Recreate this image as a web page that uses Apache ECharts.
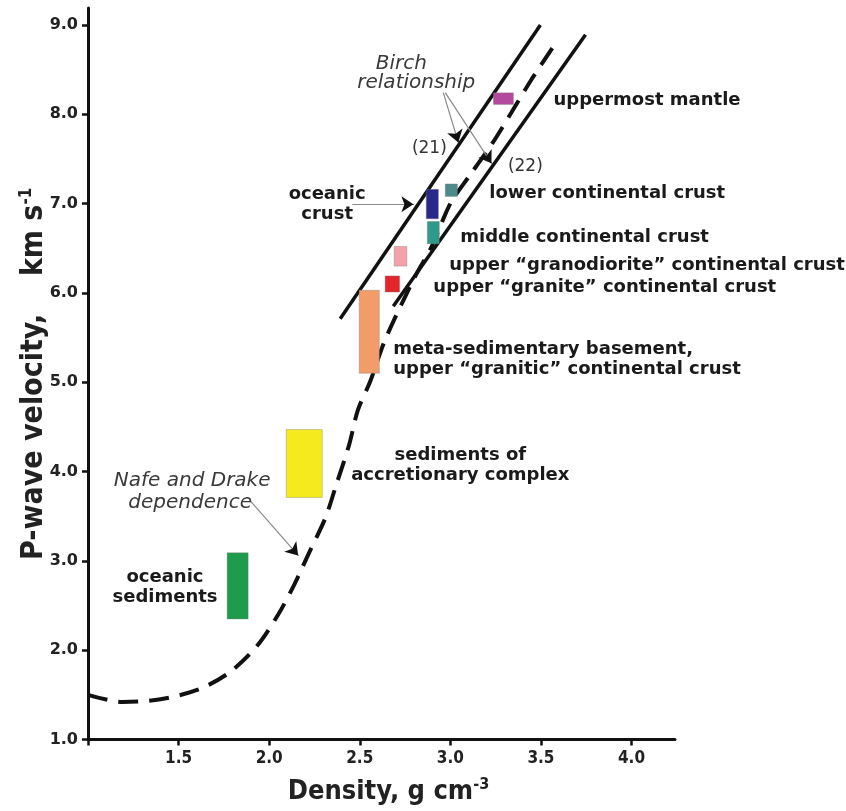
<!DOCTYPE html>
<html>
<head>
<meta charset="utf-8">
<script src="https://cdn.jsdelivr.net/npm/echarts@6/dist/echarts.min.js"></script>
<style>
  html, body { margin: 0; padding: 0; background: #fff; }
  #chart { width: 846px; height: 811px; }
</style>
</head>
<body>
<div id="chart"></div>
<script>
// 坐标轴刻度
const densityTicks = [1.0, 1.5, 2.0, 2.5, 3.0, 3.5, 4.0];
const densityLabels = [1.5, 2.0, 2.5, 3.0, 3.5, 4.0];
const velocityTicks = [1, 2, 3, 4, 5, 6, 7, 8, 9];

// Nafe-Drake 曲线 (虚线)
const nafeDensity = [1.0, 1.19, 1.40, 1.61, 1.78, 1.93, 2.05, 2.14, 2.22, 2.31, 2.37, 2.44, 2.49, 2.558, 2.641, 2.812, 2.89, 2.972, 3.011, 3.105, 3.227, 3.337, 3.448, 3.586];
const nafeVelocity = [1.50, 1.42, 1.45, 1.56, 1.75, 2.04, 2.40, 2.74, 3.09, 3.48, 3.85, 4.29, 4.69, 5.01, 5.48, 6.21, 6.49, 6.88, 7.04, 7.31, 7.66, 8.02, 8.39, 8.81];

// Birch 关系 (实线)
const birch21Density = [2.392, 3.497];
const birch21Velocity = [5.71, 9.0];
const birch22Density = [2.685, 3.746];
const birch22Velocity = [5.85, 8.89];

// 岩石块 (密度范围, 速度范围)
const blockNames = ['oceanic sediments', 'sediments of accretionary complex', 'meta-sedimentary basement', 'upper granite', 'upper granodiorite', 'middle continental crust', 'oceanic crust', 'lower continental crust', 'uppermost mantle'];
const blockDensityMin = [1.768, 2.094, 2.497, 2.640, 2.690, 2.873, 2.867, 2.972, 3.238];
const blockDensityMax = [1.884, 2.293, 2.608, 2.720, 2.760, 2.939, 2.934, 3.039, 3.348];
const blockVelocityMin = [2.35, 3.71, 5.10, 6.01, 6.30, 6.55, 6.83, 7.08, 8.11];
const blockVelocityMax = [3.09, 4.47, 6.03, 6.19, 6.52, 6.80, 7.16, 7.22, 8.24];
const blockColors = ['#1e9b4b', '#f5ea1e', '#f29c6a', '#e3262a', '#f4a3ac', '#2e9a88', '#28288a', '#4f8a8a', '#b34a9e'];

// 箭头 (起点 -> 终点)
const arrowFromDensity = [2.961, 2.972, 2.459, 1.895];
const arrowFromVelocity = [8.242, 8.242, 6.994, 3.674];
const arrowToDensity = [3.044, 3.227, 2.796, 2.160];
const arrowToVelocity = [7.685, 7.451, 6.994, 3.061];

// 文字标注
const noteTexts = [
  'uppermost mantle',
  'lower continental crust',
  'middle continental crust',
  'upper \u201cgranodiorite\u201d continental crust',
  'upper \u201cgranite\u201d continental crust',
  'meta-sedimentary basement,\nupper \u201cgranitic\u201d continental crust',
  'sediments of\naccretionary complex',
  'oceanic\nsediments',
  'oceanic\ncrust',
  'Birch',
  'relationship',
  '(21)',
  '(22)',
  'Nafe and Drake',
  'dependence'
];
const noteDensity = [3.569, 3.215, 3.055, 2.994, 2.906, 2.685, 3.055, 1.425, 2.320, 2.729, 2.812, 2.884, 3.414, 1.575, 1.564];
const noteVelocity = [8.153, 7.117, 6.627, 6.304, 6.058, 5.256, 4.075, 2.705, 6.994, 8.565, 8.354, 7.618, 7.418, 3.897, 3.652];
const noteKinds = ['left', 'left', 'left', 'left', 'left', 'left', 'center', 'center', 'center', 'italic', 'italic', 'plain', 'plain', 'italic', 'italic'];

const LABEL_FONT = "'DejaVu Sans', Verdana, sans-serif";
const TITLE_FONT = "'DejaVu Sans Condensed', 'Liberation Sans', Arial, sans-serif";

const noteStyles = {
  left: { fontFamily: LABEL_FONT, fontWeight: 'bold', fontSize: 18, fill: '#1a1a1a', align: 'left', lineHeight: 20 },
  center: { fontFamily: LABEL_FONT, fontWeight: 'bold', fontSize: 18, fill: '#1a1a1a', align: 'center', lineHeight: 20 },
  italic: { fontFamily: LABEL_FONT, fontStyle: 'italic', fontSize: 20, fill: '#3a3a3a', align: 'center', lineHeight: 21 },
  plain: { fontFamily: LABEL_FONT, fontSize: 17, fill: '#333', align: 'center', lineHeight: 18 }
};

const chart = echarts.init(document.getElementById('chart'));

const arrowLines = arrowFromDensity.map((x, i) => ({
  coords: [[x, arrowFromVelocity[i]], [arrowToDensity[i], arrowToVelocity[i]]]
}));
// 箭头头部 (黑色短段)
const arrowHeads = arrowFromDensity.map((x, i) => {
  const tx = arrowToDensity[i], ty = arrowToVelocity[i];
  return { coords: [[tx - (tx - x) * 0.1, ty - (ty - arrowFromVelocity[i]) * 0.1], [tx, ty]] };
});

chart.setOption({
  animation: false,
  backgroundColor: '#fff',
  grid: { left: 88, right: 171, top: 8, bottom: 68 },
  xAxis: {
    type: 'value',
    min: 1.0,
    max: 4.24,
    interval: 0.5,
    splitLine: { show: false },
    axisLine: { lineStyle: { color: '#111', width: 3 } },
    axisTick: { show: true, customValues: densityTicks, length: 6, lineStyle: { color: '#111', width: 2.5 } },
    axisLabel: {
      customValues: densityLabels,
      margin: 11,
      formatter: (v) => v.toFixed(1),
      fontFamily: TITLE_FONT, fontWeight: 'bold', fontSize: 17, color: '#222'
    },
    name: '{t|Density, g cm}{s|-3}',
    nameLocation: 'middle',
    nameGap: 37,
    nameTextStyle: {
      padding: [0, 0, 0, 14],
      rich: {
        t: { fontFamily: TITLE_FONT, fontWeight: 'bold', fontSize: 27, color: '#222', lineHeight: 30 },
        s: { fontFamily: TITLE_FONT, fontWeight: 'bold', fontSize: 16, color: '#222', lineHeight: 30, padding: [0, 0, 13, 0] }
      }
    }
  },
  yAxis: {
    type: 'value',
    min: 1,
    max: 9.19,
    interval: 1,
    splitLine: { show: false },
    axisLine: { lineStyle: { color: '#111', width: 3 } },
    axisTick: { show: true, customValues: velocityTicks, length: 6, lineStyle: { color: '#111', width: 2.5 } },
    axisLabel: {
      customValues: velocityTicks,
      margin: 10,
      formatter: (v) => v.toFixed(1),
      fontFamily: LABEL_FONT, fontWeight: 'bold', fontSize: 16, color: '#222'
    },
    name: '{t|P-wave velocity,    km s}{s|-1}',
    nameLocation: 'middle',
    nameGap: 38,
    nameMoveOverlap: false,
    nameTextStyle: {
      rich: {
        t: { fontFamily: TITLE_FONT, fontWeight: 'bold', fontSize: 30, color: '#222', lineHeight: 32 },
        s: { fontFamily: TITLE_FONT, fontWeight: 'bold', fontSize: 17, color: '#222', lineHeight: 32, padding: [0, 0, 14, 0] }
      }
    }
  },
  series: [
    {
      name: 'Birch (21)',
      type: 'line',
      data: birch21Density.map((x, i) => [x, birch21Velocity[i]]),
      showSymbol: false,
      lineStyle: { color: '#111', width: 3.5 },
      z: 3
    },
    {
      name: 'Birch (22)',
      type: 'line',
      data: birch22Density.map((x, i) => [x, birch22Velocity[i]]),
      showSymbol: false,
      lineStyle: { color: '#111', width: 3.5 },
      z: 3
    },
    {
      name: 'Nafe and Drake',
      type: 'line',
      data: nafeDensity.map((x, i) => [x, nafeVelocity[i]]),
      showSymbol: false,
      smooth: 0.3,
      lineStyle: { color: '#111', width: 4, type: [20, 11] },
      z: 3
    },
    {
      name: 'blocks',
      type: 'custom',
      data: blockNames.map((n, i) => [blockDensityMin[i], blockDensityMax[i], blockVelocityMin[i], blockVelocityMax[i]]),
      encode: { x: [0, 1], y: [2, 3] },
      renderItem: (params, api) => {
        const p0 = api.coord([api.value(0), api.value(3)]);
        const p1 = api.coord([api.value(1), api.value(2)]);
        return {
          type: 'rect',
          shape: { x: p0[0], y: p0[1], width: p1[0] - p0[0], height: p1[1] - p0[1] },
          style: { fill: blockColors[params.dataIndex], stroke: 'rgba(120,120,120,0.35)', lineWidth: 1 }
        };
      },
      z: 4
    },
    {
      name: 'arrows',
      type: 'lines',
      coordinateSystem: 'cartesian2d',
      data: arrowLines,
      symbol: ['none', 'none'],
      lineStyle: { color: '#8a8a8a', width: 1.2, opacity: 1 },
      z: 5
    },
    {
      name: 'arrowHeads',
      type: 'lines',
      coordinateSystem: 'cartesian2d',
      data: arrowHeads,
      symbol: ['none', 'arrow'],
      symbolSize: 12,
      lineStyle: { color: '#111', width: 1, opacity: 1 },
      z: 6
    },
    {
      name: 'notes',
      type: 'custom',
      data: noteTexts.map((t, i) => [noteDensity[i], noteVelocity[i]]),
      renderItem: (params, api) => {
        const p = api.coord([api.value(0), api.value(1)]);
        const st = noteStyles[noteKinds[params.dataIndex]];
        return {
          type: 'text',
          x: p[0],
          y: p[1],
          style: Object.assign({ text: noteTexts[params.dataIndex], verticalAlign: 'middle' }, st)
        };
      },
      z: 7
    }
  ]
});
</script>
</body>
</html>
